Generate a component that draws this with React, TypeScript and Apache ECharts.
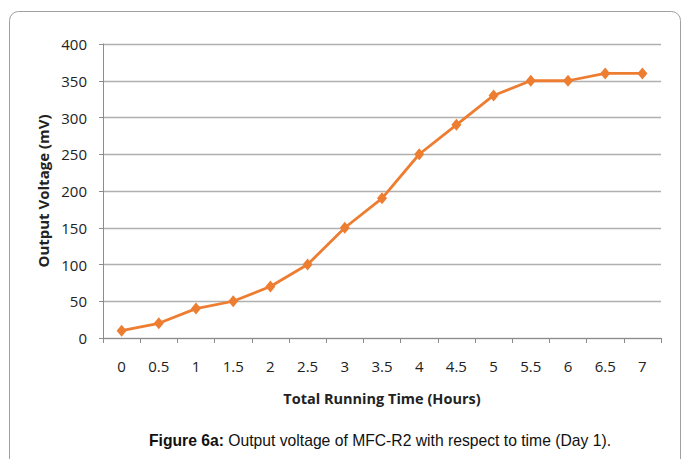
import React, { useEffect, useRef } from "react";
import * as echarts from "echarts";

const hours = ["0", "0.5", "1", "1.5", "2", "2.5", "3", "3.5", "4", "4.5", "5", "5.5", "6", "6.5", "7"];
const voltage = [10, 20, 40, 50, 70, 100, 150, 190, 250, 290, 330, 350, 350, 360, 360];
const yTicks = [0, 50, 100, 150, 200, 250, 300, 350, 400];

const axisFont = "'Liberation Sans Narrow', 'Open Sans', sans-serif";

export default function App() {
  const ref = useRef<HTMLDivElement>(null);
  useEffect(() => {
    document.body.style.margin = "0";
    const chart = echarts.init(ref.current!, null, { renderer: "svg" });
    chart.setOption({
      animation: false,
      backgroundColor: "#ffffff",
      grid: { left: 103, right: 22, top: 44, bottom: 121 },
      graphic: [
        {
          type: "rect",
          shape: { x: 9.5, y: 11.5, width: 671, height: 480, r: 9 },
          style: { fill: "none", stroke: "#a0a0a0", lineWidth: 1 },
          silent: true,
        },
        {
          type: "text",
          x: 380,
          y: 440,
          style: {
            text: "{b|Figure 6a:} Output voltage of MFC-R2 with respect to time (Day 1).",
            align: "center",
            verticalAlign: "middle",
            fontFamily: "'Liberation Sans', Arial, sans-serif",
            fontSize: 15.7,
            fill: "#111",
            rich: {
              b: { fontWeight: "bold", fontSize: 15.7, fontFamily: "'Liberation Sans', Arial, sans-serif", fill: "#111" },
            },
          },
        },
      ],
      xAxis: {
        type: "category",
        data: hours,
        boundaryGap: true,
        name: "Total Running Time (Hours)",
        nameLocation: "middle",
        nameGap: 53,
        nameTextStyle: { fontFamily: axisFont, fontWeight: "bold", fontSize: 14.5, color: "#222" },
        axisLine: { lineStyle: { color: "#8c8c8c", width: 1 } },
        axisTick: { show: true, length: 5, lineStyle: { color: "#8c8c8c" } },
        axisLabel: { fontFamily: axisFont, fontSize: 15, color: "#222", margin: 20 },
        splitLine: { show: false },
      },
      yAxis: {
        type: "value",
        min: yTicks[0],
        max: yTicks[yTicks.length - 1],
        interval: 50,
        name: "Output Voltage (mV)",
        nameLocation: "middle",
        nameGap: 51,
        nameTextStyle: { fontFamily: axisFont, fontWeight: "bold", fontSize: 15, color: "#222" },
        axisLine: { show: true, lineStyle: { color: "#8c8c8c", width: 1 } },
        axisTick: { show: true, length: 4, lineStyle: { color: "#8c8c8c" } },
        axisLabel: { fontFamily: axisFont, fontSize: 15, color: "#222", margin: 16 },
        splitLine: { show: true, lineStyle: { color: "#b0b0b0", width: 1.3 } },
      },
      series: [
        {
          type: "line",
          data: voltage,
          symbol: "diamond",
          symbolSize: [10, 12],
          lineStyle: { color: "#ed7d31", width: 2.8 },
          itemStyle: { color: "#ed7d31" },
        },
      ],
    });
    return () => chart.dispose();
  }, []);
  return <div ref={ref} style={{ width: 683, height: 459 }} />;
}
